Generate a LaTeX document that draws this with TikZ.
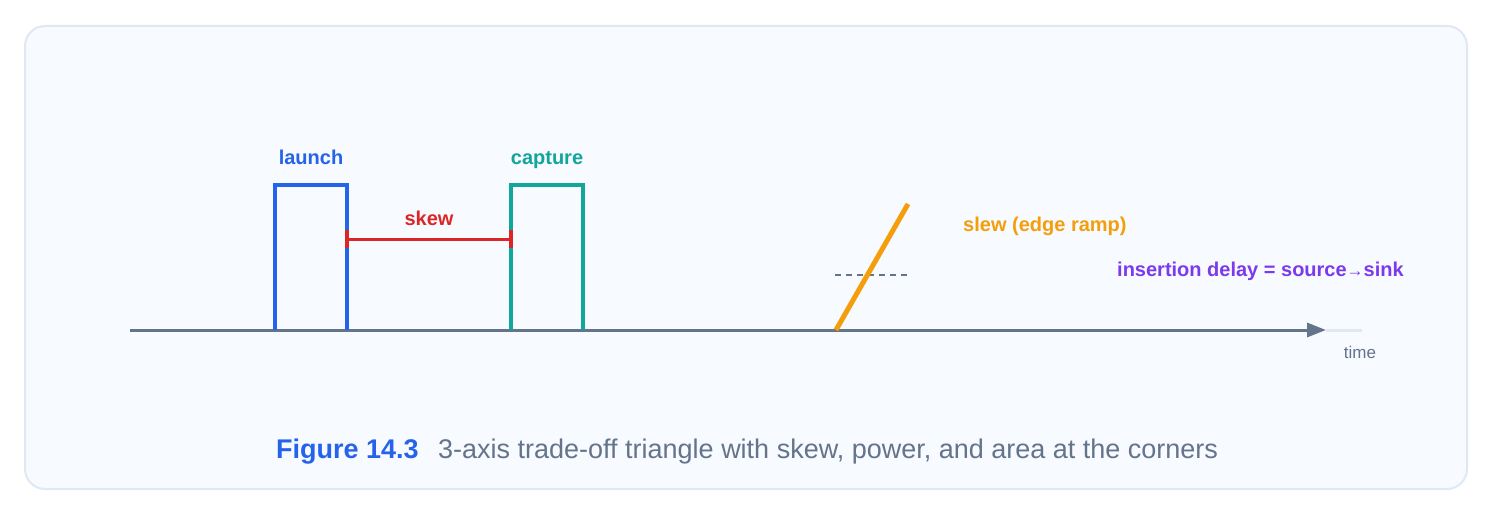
\documentclass[tikz,border=0pt]{standalone}
\usepackage{fontspec}
\setmainfont{Liberation Sans}
\usetikzlibrary{positioning,arrows.meta}
\definecolor{launchblue}{HTML}{2563EB}
\definecolor{captureteal}{HTML}{12A59C}
\definecolor{skewred}{HTML}{DC2626}
\definecolor{slewamber}{HTML}{F59E0B}
\definecolor{insertpurple}{HTML}{7C3AED}
\definecolor{axisgray}{HTML}{64748B}
\definecolor{axislight}{HTML}{E2E8F0}
\definecolor{framefill}{HTML}{F7FAFE}
\definecolor{frameline}{HTML}{DFE8F3}
\tikzset{
frame/.style={draw=frameline,fill=framefill,line width=2pt,rounded corners=20pt},
pulse/.style={line width=4pt,line join=miter},
tag/.style={inner sep=0pt,font=\bfseries\fontsize{20}{24}\selectfont},
axislabel/.style={inner sep=0pt,text=axisgray,font=\fontsize{17}{20}\selectfont},
capnum/.style={inner sep=0pt,text=launchblue,font=\bfseries\fontsize{27}{31}\selectfont},
captext/.style={inner sep=0pt,text=axisgray,font=\fontsize{27}{31}\selectfont}
}

\begin{document}
\begin{tikzpicture}[x=1pt,y=-1pt]
\useasboundingbox (0,0) rectangle (1494,516);
\draw[frame] (25,26) rectangle (1467,489);

% time axis
\coordinate (t0) at (130,330);
\coordinate (t1) at (1326,330);
\coordinate (t2) at (1362,330);
\draw[axislight,line width=3pt] (t1) -- (t2);
\draw[axisgray,line width=3pt,-{Triangle[length=19pt,width=14pt]}] (t0) -- (t1);
\node[axislabel,anchor=base] (time) at (1360,358) {time};

% launch and capture pulses
\coordinate (l0) at (275,330);
\coordinate (l1) at (347,330);
\coordinate (c0) at (511,330);
\coordinate (c1) at (583,330);
\draw[pulse,launchblue] (l0) -- ++(0,-145) -| (l1);
\draw[pulse,captureteal] (c0) -- ++(0,-145) -| (c1);
\node[tag,text=launchblue,anchor=base] (launch) at (311,164.5) {launch};
\node[tag,text=captureteal,anchor=base] (capture) at (547,164.5) {capture};

% skew
\coordinate (s0) at (347,239);
\coordinate (s1) at (511,239);
\draw[skewred,line width=3pt,shorten <=-2pt,shorten >=-2pt,{Bar[width=18pt,line width=4pt]}-{Bar[width=18pt,line width=4pt]}] (s0) -- (s1);
\node[tag,text=skewred,anchor=base] (skew) at (429,225) {skew};

% slew
\coordinate (r0) at (836,330);
\coordinate (r1) at (908,204);
\coordinate (m0) at (835,275);
\coordinate (m1) at (908,275);
\draw[axisgray,line width=1.5pt,dash pattern=on 6pt off 5pt] (m0) -- (m1);
\draw[slewamber,line width=5pt] (r0) -- (r1);
\node[tag,text=slewamber,anchor=base west] (slew) at (963,231) {slew (edge ramp)};
\node[tag,text=insertpurple,anchor=base west] (insertion) at (1117,276) {insertion delay = source{\fontsize{17}{17}\selectfont→}sink};

% caption
\node[capnum,anchor=base west] (figno) at (276,458) {Figure 14.3};
\node[captext,base right=19pt of figno] (caption) {3-axis trade-off triangle with skew, power, and area at the corners};

\end{tikzpicture}
\end{document}
